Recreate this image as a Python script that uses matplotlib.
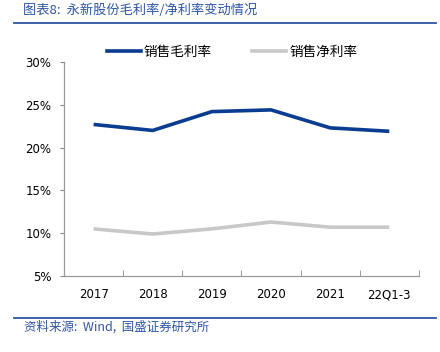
import matplotlib
matplotlib.use("Agg")
import matplotlib.pyplot as plt
from matplotlib.lines import Line2D

plt.rcParams['font.family'] = ['Noto Sans CJK SC', 'DejaVu Sans']

years = ["2017", "2018", "2019", "2020", "2021", "22Q1-3"]
gross = [22.7, 22.0, 24.2, 24.4, 22.3, 21.9]
net = [10.5, 9.9, 10.5, 11.3, 10.7, 10.7]

blue = "#0a3d91"
gray = "#c8c8c8"
title_c = "#2f55a4"

fig = plt.figure(figsize=(4.4, 3.52), dpi=100)
ax = fig.add_axes([0.1455, 0.216, 0.8065, 0.608])

x = list(range(len(years)))
ax.plot(x, gross, color=blue, lw=2.6, solid_capstyle="butt")
ax.plot(x, net, color=gray, lw=2.6, solid_capstyle="butt")

ax.set_xlim(-0.5, len(years) - 0.5)
ax.set_ylim(5, 30)
ax.set_yticks([5, 10, 15, 20, 25, 30])
ax.set_yticklabels([f"{v}%" for v in [5, 10, 15, 20, 25, 30]],
                   family="DejaVu Sans", fontsize=8.5)
ax.set_xticks(x)
ax.set_xticklabels(years, family="DejaVu Sans", fontsize=8.5)
ax.set_xticks([i + 0.5 for i in range(-1, len(years))], minor=True)
ax.tick_params(axis="x", which="major", length=0, pad=9)
ax.tick_params(axis="x", which="minor", length=4, color="#888888", direction="in")
ax.tick_params(axis="y", length=3, color="#888888", pad=6)
for s in ["top", "right"]:
    ax.spines[s].set_visible(False)
for s in ["left", "bottom"]:
    ax.spines[s].set_color("#999999")
    ax.spines[s].set_linewidth(0.9)

handles = [Line2D([], [], color=blue, lw=2.6), Line2D([], [], color=gray, lw=2.6)]
fig.legend(handles, ["销售毛利率", "销售净利率"], loc="center",
           bbox_to_anchor=(0.527, 0.852), ncol=2, frameon=False,
           fontsize=9.8, handlelength=2.5, columnspacing=3.0, handletextpad=0.2)

fig.text(0.052, 0.972, "图表8:  永新股份毛利率/净利率变动情况", color=title_c,
         fontsize=9.5, va="center", ha="left", style="italic")
fig.add_artist(Line2D([0.032, 0.99], [0.934, 0.934], color=title_c, lw=1.3))
fig.add_artist(Line2D([0.032, 0.99], [0.097, 0.097], color=title_c, lw=1.3))
fig.text(0.055, 0.071, "资料来源:  Wind,  国盛证券研究所", color=title_c,
         fontsize=9, va="center", ha="left", style="italic")

fig.savefig("out.png", dpi=100)
